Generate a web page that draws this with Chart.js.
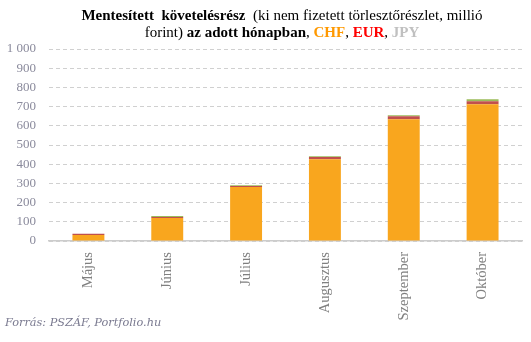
<!DOCTYPE html>
<html>
<head>
<meta charset="utf-8">
<script src="https://cdn.jsdelivr.net/npm/chart.js@4/dist/chart.umd.min.js"></script>
<style>
  html, body { margin: 0; padding: 0; background: #fff; }
  #wrap { position: relative; width: 531px; height: 342px; }
  #title {
    position: absolute; left: 0; top: 7px; width: 564px; text-align: center;
    font-family: 'Liberation Serif', serif; font-size: 15px; line-height: 17px; color: #000;
  }
  #title b { font-weight: bold; }
  #source {
    position: absolute; left: 5px; top: 316px;
    font-family: 'DejaVu Serif', serif; font-style: italic; font-size: 11.3px; color: #7a7a90;
  }
</style>
</head>
<body>
<div id="wrap">
  <canvas id="c" width="531" height="342"></canvas>
  <div id="title"><b>Mentesített&nbsp; követelésrész</b>&nbsp; (ki nem fizetett törlesztőrészlet, millió<br>forint) <b>az adott hónapban</b>, <b style="color:#ff9900">CHF</b>, <b style="color:#ff0000">EUR</b>, <b style="color:#c0c0c0">JPY</b></div>
  <div id="source">Forrás: PSZÁF, Portfolio.hu</div>
</div>
<script>
// honapok es ertekek (millio forint), leolvasva a kepbol
const months = ['Május', 'Június', 'Július', 'Augusztus', 'Szeptember', 'Október'];
const chf = [31, 120, 281, 426, 634, 712];
const eur = [7, 5, 6, 11, 16, 16];
const jpy = [0, 5, 4, 5, 5, 10];
const yTicks = [0, 100, 200, 300, 400, 500, 600, 700, 800, 900, 1000];

const serif = "'Liberation Serif', serif";

new Chart(document.getElementById('c'), {
  type: 'bar',
  data: {
    labels: months,
    datasets: [
      { label: 'CHF', data: chf, backgroundColor: '#f9a61e' },
      { label: 'EUR', data: eur, backgroundColor: '#c0504d' },
      { label: 'JPY', data: jpy, backgroundColor: '#9bbb59' },
    ].map((d) => ({ ...d, barPercentage: 0.405, categoryPercentage: 1, borderWidth: 0 })),
  },
  options: {
    responsive: false,
    animation: false,
    layout: { padding: { top: 49, right: 9, left: 0, bottom: 0 } },
    plugins: { legend: { display: false }, tooltip: { enabled: false } },
    scales: {
      x: {
        stacked: true,
        afterFit: (s) => { s.height = 101; },
        grid: { display: false },
        border: { display: true, color: '#cccccc', width: 1.5 },
        ticks: {
          color: '#808080',
          font: { family: serif, size: 14.5 },
          minRotation: 90, maxRotation: 90,
          padding: 3,
        },
      },
      y: {
        stacked: true,
        min: 0, max: 1000,
        afterFit: (s) => { s.width = 49; },
        afterBuildTicks: (s) => { s.ticks = yTicks.map((v) => ({ value: v })); },
        border: { display: false, dash: [4, 3] },
        grid: { color: '#d0d0d0', drawTicks: false },
        ticks: {
          color: '#8a8a9c',
          font: { family: serif, size: 13 },
          padding: 13,
          callback: (v) => (v >= 1000 ? '1 000' : String(v)),
        },
      },
    },
  },
});
</script>
</body>
</html>
